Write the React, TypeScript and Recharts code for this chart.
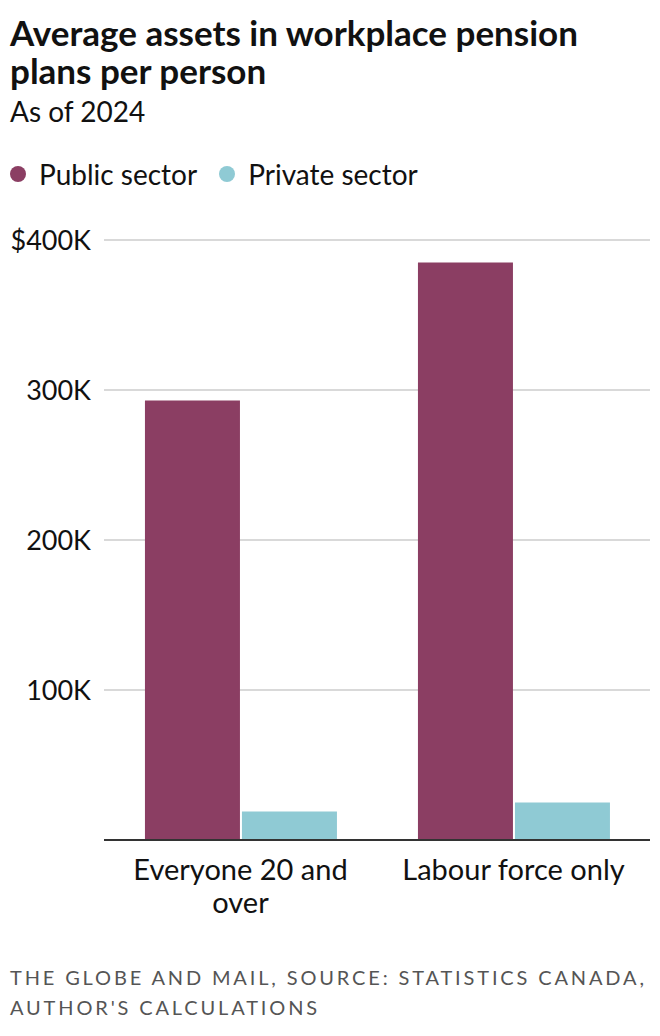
import React from 'react';
import { Bar, BarChart, CartesianGrid, XAxis, YAxis } from 'recharts';

const categories = ['Everyone 20 and over', 'Labour force only'];
const publicSector = [293000, 385000];
const privateSector = [19000, 25000];
const yTicks = [0, 100000, 200000, 300000, 400000];

const seriesNames = { publicSector: 'Public sector', privateSector: 'Private sector' };
const colors = { publicSector: '#8b3e63', privateSector: '#8fcad4' };

const data = categories.map((name, i) => ({
  name,
  publicSector: publicSector[i],
  privateSector: privateSector[i],
}));

const FONT = 'Lato, "Noto Sans", sans-serif';
const TICK_FONT_SIZE = 29;

const formatTick = (v: number) => {
  if (v === 0) return '';
  const label = `${v / 1000}K`;
  return v === 400000 ? `$${label}` : label;
};

// greedy word wrap, measured with a canvas
let ctx: CanvasRenderingContext2D | null = null;
const wrap = (text: string, maxWidth: number) => {
  if (!ctx) ctx = document.createElement('canvas').getContext('2d');
  if (ctx) ctx.font = `${TICK_FONT_SIZE}px ${FONT}`;
  const measure = (s: string) => (ctx ? ctx.measureText(s).width : s.length * 14);
  const lines: string[] = [];
  let line = '';
  text.split(' ').forEach((word) => {
    const next = line ? `${line} ${word}` : word;
    if (line && measure(next) > maxWidth) {
      lines.push(line);
      line = word;
    } else {
      line = next;
    }
  });
  if (line) lines.push(line);
  return lines;
};

const CategoryTick = ({ x, y, payload }: any) => {
  const lines = wrap(payload.value, 245);
  return (
    <text x={x} y={y} textAnchor="middle" fontSize={TICK_FONT_SIZE} fontFamily={FONT} fill="#111">
      {lines.map((l, i) => (
        <tspan key={i} x={x} dy={i === 0 ? 38 : 33}>
          {l}
        </tspan>
      ))}
    </text>
  );
};

const LegendRow = () => (
  <div style={{ display: 'flex', alignItems: 'center', fontFamily: FONT, fontSize: 28, color: '#111' }}>
    {(Object.keys(seriesNames) as (keyof typeof seriesNames)[]).map((key) => (
      <div key={key} style={{ display: 'flex', alignItems: 'center', marginRight: 22 }}>
        <span
          style={{
            width: 16,
            height: 16,
            borderRadius: '50%',
            background: colors[key],
            display: 'inline-block',
            marginRight: 13,
          }}
        />
        {seriesNames[key]}
      </div>
    ))}
  </div>
);

export default function App() {
  return (
    <div style={{ position: 'relative', width: 652, height: 1020, fontFamily: FONT, background: '#fff' }}>
      <div
        style={{
          position: 'absolute',
          left: 2,
          top: 5,
          fontSize: 35,
          fontWeight: 700,
          lineHeight: '38px',
          color: '#111',
          width: 650,
          whiteSpace: 'nowrap',
        }}
      >
        Average assets in workplace pension
        <br />
        plans per person
      </div>
      <div style={{ position: 'absolute', left: 2, top: 86, fontSize: 28, color: '#111' }}>As of 2024</div>
      <div style={{ position: 'absolute', left: 2, top: 149 }}>
        <LegendRow />
      </div>
      <div style={{ position: 'absolute', left: 0, top: 192 }}>
        <BarChart
          width={652}
          height={730}
          data={data}
          margin={{ top: 40, right: 10, left: 0, bottom: 0 }}
          barCategoryGap="15%"
          barGap={2}
        >
          <CartesianGrid vertical={false} stroke="#cccccc" strokeWidth={1.5} />
          <YAxis
            width={96}
            domain={[0, 400000]}
            ticks={yTicks}
            tickFormatter={formatTick}
            axisLine={false}
            tickLine={false}
            tickSize={0}
            tickMargin={13}
            tick={{ fontSize: 27, fill: '#111', fontFamily: FONT }}
          />
          <XAxis
            dataKey="name"
            height={90}
            tickLine={false}
            tickSize={0}
            axisLine={{ stroke: '#333', strokeWidth: 2 }}
            tick={<CategoryTick />}
            interval={0}
          />
          <Bar dataKey="publicSector" name={seriesNames.publicSector} fill={colors.publicSector} isAnimationActive={false} />
          <Bar dataKey="privateSector" name={seriesNames.privateSector} fill={colors.privateSector} isAnimationActive={false} />
        </BarChart>
      </div>
      <div
        style={{
          position: 'absolute',
          left: 2,
          top: 954,
          fontSize: 20,
          lineHeight: '30px',
          color: '#555',
          letterSpacing: 2.85,
          width: 650,
          whiteSpace: 'nowrap',
        }}
      >
        THE GLOBE AND MAIL, SOURCE: STATISTICS CANADA,
        <br />
        AUTHOR'S CALCULATIONS
      </div>
    </div>
  );
}
